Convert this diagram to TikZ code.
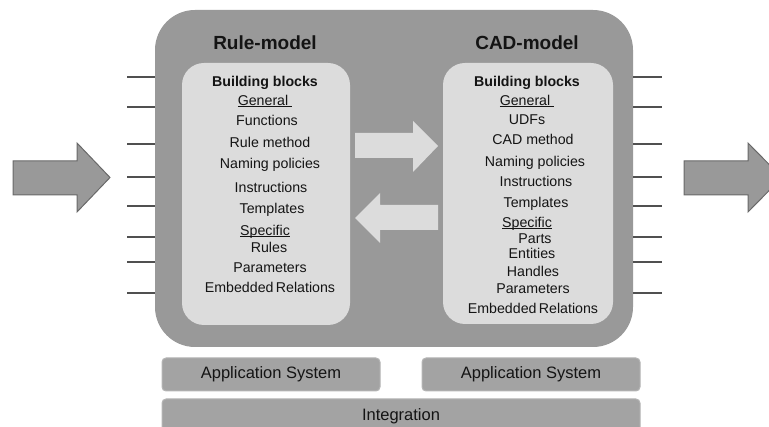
\documentclass[tikz,border=0pt]{standalone}
\usepackage{fontspec}
\setmainfont{Liberation Sans}
% underline set close to the baseline
\newcommand\ulword[1]{\setbox0\hbox{#1}\rlap{\rule[-1.7pt]{\wd0}{0.8pt}}\box0}
\begin{document}
\begin{tikzpicture}[x=1pt,y=-1pt,
  outerbox/.style={fill=outergray,draw=none,rounded corners=40pt},
  innerbox/.style={fill=innergray,draw=none,rounded corners=22pt},
  barbox/.style={fill=bargray,draw=bargray!80!white,line width=1pt,rounded corners=4pt,
    font=\fontsize{16.5}{18}\selectfont,text=textcol},
  item/.style={font=\fontsize{14.2}{16}\selectfont,text=textcol,inner sep=0pt,
    text height=10pt,text depth=1pt},
  heading/.style={item,font=\bfseries\fontsize{14.2}{16}\selectfont},
  title/.style={font=\bfseries\fontsize{19}{21}\selectfont,text=textcol,inner sep=0pt,
    text height=13.5pt,text depth=0pt},
  tick/.style={draw=tickcol,line width=1.4pt},
  sidearrow/.style={fill=outergray,draw=arrowedge,line width=1pt,line join=miter},
  innerarrow/.style={fill=innergray,draw=none}]
\definecolor{outergray}{RGB}{153,153,153}
\definecolor{innergray}{RGB}{220,220,220}
\definecolor{bargray}{RGB}{163,163,163}
\definecolor{tickcol}{RGB}{80,80,80}
\definecolor{arrowedge}{RGB}{105,105,105}
\definecolor{textcol}{RGB}{20,20,20}

\useasboundingbox (0,0) rectangle (769,427);
\clip (0,0) rectangle (769,427);

% main frame with the two models
\node[outerbox,minimum width=478pt,minimum height=337pt] (frame) at (394,178.5) {};
\node[innerbox,minimum width=168pt,minimum height=262pt] (rule) at (266,194) {};
\node[innerbox,minimum width=170pt,minimum height=261pt] (cad) at (528,193.5) {};

% interface ticks on both sides of the frame
\foreach \y in {77,107,144,177,206,237,262,293}{
  \coordinate (l\y) at (127,\y);
  \coordinate (r\y) at (662,\y);
  \draw[tick] (l\y) -- (frame.west |- l\y);
  \draw[tick] (frame.east |- r\y) -- (r\y);
}

% input and output arrows
\draw[sidearrow] (13,161) -- (77,161) -- (77,143) -- (110,177.5) -- (77,212) -- (77,195) -- (13,195) -- cycle;
\draw[sidearrow] (684,161) -- (748,161) -- (748,143) -- (782,177.5) -- (748,212) -- (748,195) -- (684,195) -- cycle;

% exchange arrows between the models
\fill[innerarrow] (355,133) -- (413,133) -- (413,121) -- (438,146) -- (413,172) -- (413,158) -- (355,158) -- cycle;
\fill[innerarrow] (438,205) -- (380,205) -- (380,193) -- (355,218) -- (380,243) -- (380,230) -- (438,230) -- cycle;

% titles
\node[title] (ruletitle) at (265,43) {Rule-model};
\node[title] (cadtitle) at (527,43) {CAD-model};

% rule-model contents
\node[heading] (rbb) at (265,82) {Building blocks};
\node[item] (rgen) at (265,101) {\ulword{General\ }};
\node[item] (rfun) at (267,121) {Functions};
\node[item] (rmeth) at (270,143) {Rule method};
\node[item] (rname) at (270,164) {Naming policies};
\node[item] (rinst) at (271,188) {Instructions};
\node[item] (rtemp) at (272,209) {Templates};
\node[item] (rspec) at (265,231) {\ulword{Specific}};
\node[item] (rrules) at (269,248) {Rules};
\node[item] (rpar) at (270,268) {Parameters};
\node[item] (remb) at (270,288) {Embedded\,Relations};

% CAD-model contents
\node[heading] (cbb) at (527,82) {Building blocks};
\node[item] (cgen) at (527,101) {\ulword{General\ }};
\node[item] (cudf) at (527,120) {UDFs};
\node[item] (cmeth) at (533,140) {CAD method};
\node[item] (cname) at (535,162) {Naming policies};
\node[item] (cinst) at (536,182) {Instructions};
\node[item] (ctemp) at (536,203) {Templates};
\node[item] (cspec) at (527,223) {\ulword{Specific}};
\node[item] (cparts) at (535,239) {Parts};
\node[item] (cent) at (532,254) {Entities};
\node[item] (chan) at (533,272) {Handles};
\node[item] (cpar) at (533,289) {Parameters};
\node[item] (cemb) at (533,309) {Embedded\,Relations};

% supporting layers
\node[barbox,minimum width=218pt,minimum height=33pt] (appl) at (271,374.5) {Application System};
\node[barbox,minimum width=218pt,minimum height=33pt] (appr) at (531,374.5) {Application System};
\node[barbox,minimum width=478pt,minimum height=34pt] (integ) at (401,416) {Integration};
\end{tikzpicture}
\end{document}
